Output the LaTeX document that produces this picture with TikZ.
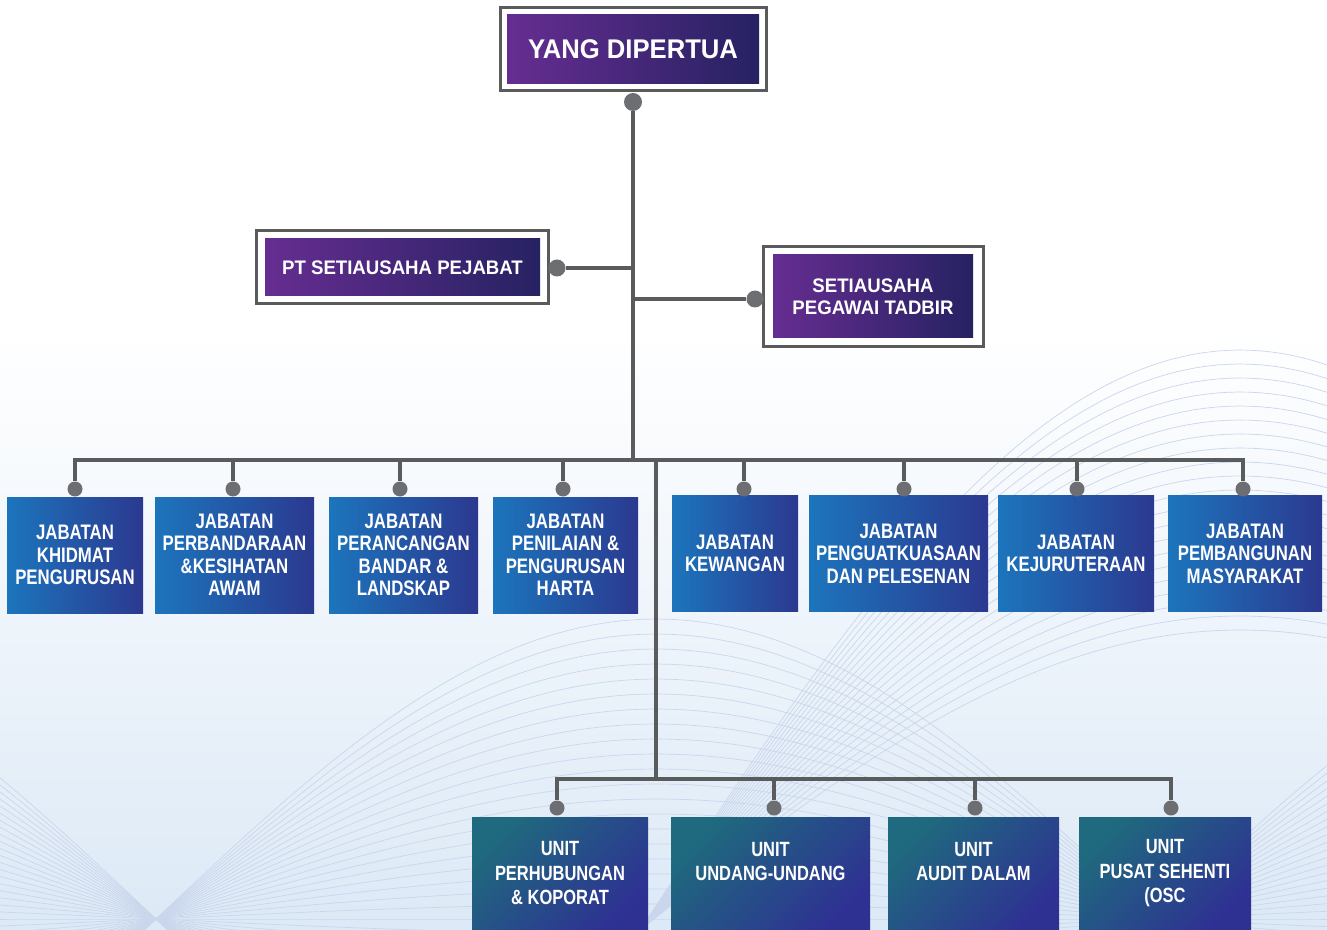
\documentclass[tikz,border=0pt]{standalone}
\usepackage{fontspec}
\setmainfont{Liberation Sans}
\newfontfamily\widefont{Liberation Sans}[FakeStretch=0.95]
\newfontfamily\narrowfont{Liberation Sans}[FakeStretch=0.8]
\definecolor{linegray}{HTML}{5A5B5D}
\definecolor{dotgray}{HTML}{6D6E71}
\definecolor{hpurple}{HTML}{662D91}
\definecolor{hblue}{HTML}{2E3192}
\definecolor{hnavy}{HTML}{262262}
\definecolor{dleft}{HTML}{1C75BC}
\definecolor{dmid}{HTML}{2E3192}
\definecolor{dright}{HTML}{2B3990}
\definecolor{uteal}{HTML}{1F6A7E}
\definecolor{bgblue}{HTML}{DCE9F6}
\definecolor{wavec}{HTML}{CAD6EC}

\begin{document}
\begin{tikzpicture}[x=0.5pt,y=-0.5pt,
    wire/.style={draw=linegray, line width=2pt},
    wave/.style={draw=wavec, line width=0.35pt},
    dot/.style={circle, fill=dotgray, inner sep=0pt, minimum size=7.5pt},
    frame/.style={draw=linegray, line width=1.5pt, fill=white, inner sep=0pt},
    head/.style={left color=hpurple, middle color=hblue, right color=hnavy,
        text=white, align=center, inner sep=0pt,
        font=\widefont\bfseries\fontsize{9.8}{11}\selectfont},
    dept/.style={left color=dleft, middle color=dmid, right color=dright,
        text=white, align=center, inner sep=0pt, minimum height=58pt,
        font=\narrowfont\bfseries\fontsize{10.5}{11.25}\selectfont},
    unit/.style={left color=uteal, middle color=dleft, right color=hblue,
        shading angle=45, text=white, align=center, inner sep=0pt,
        minimum height=56.5pt,
        font=\narrowfont\bfseries\fontsize{10.3}{12.25}\selectfont}]

    \useasboundingbox (0,0) rectangle (1327,930);

    %fond
    \fill[white] (0,0) rectangle (1327,330);
    \shade[top color=white, bottom color=bgblue] (0,329) rectangle (1327,930);
    \begin{scope}
        \clip (0,0) rectangle (1327,930);
        \foreach \a in {-300,-285,...,300}
            \draw[wave] plot[domain=0:1327, samples=90] (\x,{919-\a*sin((\x-156)*0.18)});
        \foreach \a in {300,314,...,580}
            \draw[wave] plot[domain=560:1327, samples=70] (\x,{930-\a*sin((\x-640)*0.15)});
    \end{scope}

    %pengurusan atasan
    \node[frame, minimum width=133pt, minimum height=41.5pt] (ydpf) at (633,49.5) {};
    \node[head, minimum width=126pt, minimum height=34.5pt,
        font=\widefont\bfseries\fontsize{13.5}{15}\selectfont] (ydp) at (633,49.5) {YANG DIPERTUA};
    \node[frame, minimum width=146pt, minimum height=36.5pt] (ptsf) at (402,267.5) {};
    \node[head, minimum width=137.5pt, minimum height=28.5pt] (pts) at (402.5,267.5) {PT SETIAUSAHA PEJABAT};
    \node[frame, minimum width=110pt, minimum height=50pt] (sptf) at (873,297) {};
    \node[head, minimum width=100pt, minimum height=41.5pt] (spt) at (873,296.5) {SETIAUSAHA\\PEGAWAI TADBIR};

    %jabatan
    \node[dept, minimum width=68pt] (j1) at (75,555) {JABATAN\\KHIDMAT\\PENGURUSAN};
    \node[dept, minimum width=79.5pt] (j2) at (234.5,555) {JABATAN\\PERBANDARAAN\\\&KESIHATAN\\AWAM};
    \node[dept, minimum width=74.5pt] (j3) at (403.5,555) {JABATAN\\PERANCANGAN\\BANDAR \&\\LANDSKAP};
    \node[dept, minimum width=72.5pt] (j4) at (565.5,555) {JABATAN\\PENILAIAN \&\\PENGURUSAN\\HARTA};
    \node[dept, minimum width=63pt] (j5) at (735,553.5) {JABATAN\\KEWANGAN};
    \node[dept, minimum width=89.5pt] (j6) at (898.5,553.5) {JABATAN\\PENGUATKUASAAN\\DAN PELESENAN};
    \node[dept, minimum width=78pt] (j7) at (1076,553.5) {JABATAN\\KEJURUTERAAN};
    \node[dept, minimum width=77pt] (j8) at (1245,553.5) {JABATAN\\PEMBANGUNAN\\MASYARAKAT};

    %unit
    \node[unit, minimum width=88pt] (u1) at (560,873.5) {UNIT\\PERHUBUNGAN\\\& KOPORAT};
    \node[unit, minimum width=99.5pt] (u2) at (770.5,873.5) {UNIT\\UNDANG-UNDANG\\\mbox{}};
    \node[unit, minimum width=85.5pt] (u3) at (973.5,873.5) {UNIT\\AUDIT DALAM\\\mbox{}};
    \node[unit, minimum width=86pt] (u4) at (1165,873.5) {UNIT\\PUSAT SEHENTI\\(OSC};

    %titik
    \node[dot, minimum size=9pt] (dydp) at (633,102) {};
    \node[dot, minimum size=8.5pt] (dpts) at (557,268) {};
    \node[dot, minimum size=8.5pt] (dspt) at (755,299) {};
    \foreach \x [count=\i] in {75,233,400,563,744,904,1077,1243}
        \node[dot] (dj\i) at (\x,489) {};
    \foreach \x [count=\i] in {557,774,975,1171}
        \node[dot] (du\i) at (\x,808) {};

    %garisan
    \coordinate (bus) at (633,460);
    \coordinate (split) at (656,460);
    \coordinate (ubus) at (656,779);
    \draw[wire] (dydp) -- (bus);
    \draw[wire] (dpts) -- (dpts -| bus);
    \draw[wire] (dspt) -- (dspt -| bus);
    \draw[wire] (dj1) |- (bus) -| (dj8);
    \foreach \i in {2,...,7}
        \draw[wire] (dj\i) -- (dj\i |- bus);
    \draw[wire] (split) -- (ubus);
    \draw[wire] (du1) |- (ubus) -| (du4);
    \foreach \i in {2,3}
        \draw[wire] (du\i) -- (du\i |- ubus);

\end{tikzpicture}
\end{document}
